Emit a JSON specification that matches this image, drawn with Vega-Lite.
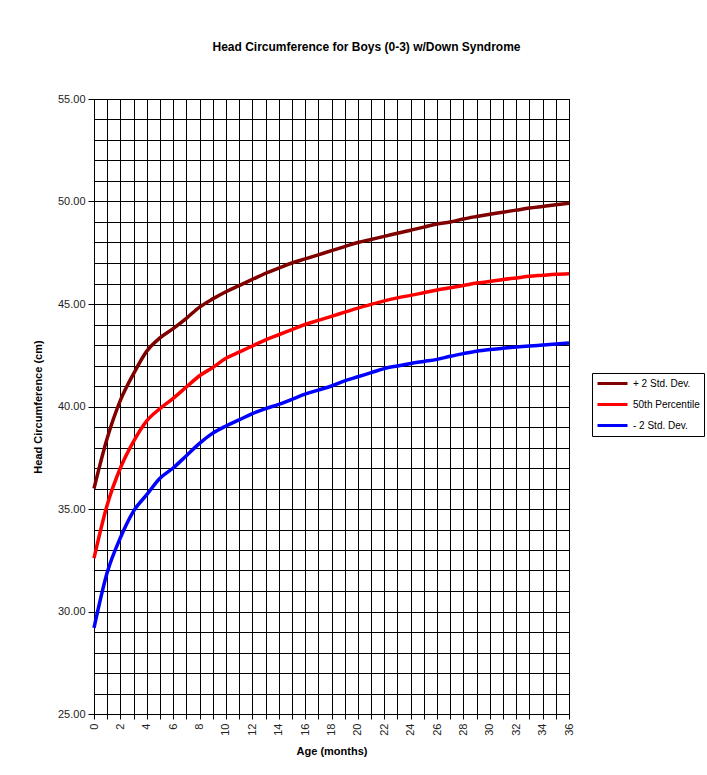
{
  "$schema": "https://vega.github.io/schema/vega-lite/v6.json",
  "autosize": {"type": "none"},
  "width": 475,
  "height": 615,
  "padding": {"left": 94, "top": 99, "right": 138, "bottom": 61},
  "background": "white",
  "title": {
    "text": "Head Circumference for Boys (0-3) w/Down Syndrome",
    "font": "Liberation Sans",
    "fontSize": 12,
    "fontWeight": "bold",
    "color": "black",
    "anchor": "middle",
    "dx": 35,
    "offset": 39
  },
  "data": {
    "values": [
      {"month": 0, "hi": 36.0, "p50": 32.6, "lo": 29.2},
      {"month": 1, "hi": 38.45, "p50": 35.2, "lo": 31.9},
      {"month": 2, "hi": 40.3, "p50": 37.0, "lo": 33.6},
      {"month": 3, "hi": 41.6, "p50": 38.3, "lo": 34.9},
      {"month": 4, "hi": 42.7, "p50": 39.3, "lo": 35.7},
      {"month": 5, "hi": 43.35, "p50": 39.9, "lo": 36.5},
      {"month": 6, "hi": 43.8, "p50": 40.4, "lo": 37.0},
      {"month": 7, "hi": 44.3, "p50": 40.95, "lo": 37.6},
      {"month": 8, "hi": 44.85, "p50": 41.5, "lo": 38.2},
      {"month": 9, "hi": 45.25, "p50": 41.9, "lo": 38.7},
      {"month": 10, "hi": 45.6, "p50": 42.35, "lo": 39.05},
      {"month": 11, "hi": 45.9, "p50": 42.65, "lo": 39.35},
      {"month": 12, "hi": 46.2, "p50": 42.95, "lo": 39.65},
      {"month": 13, "hi": 46.5, "p50": 43.25, "lo": 39.9},
      {"month": 14, "hi": 46.75, "p50": 43.5, "lo": 40.1},
      {"month": 15, "hi": 47.0, "p50": 43.75, "lo": 40.35},
      {"month": 16, "hi": 47.2, "p50": 44.0, "lo": 40.6},
      {"month": 17, "hi": 47.4, "p50": 44.2, "lo": 40.8},
      {"month": 18, "hi": 47.6, "p50": 44.4, "lo": 41.0},
      {"month": 19, "hi": 47.8, "p50": 44.6, "lo": 41.25},
      {"month": 20, "hi": 48.0, "p50": 44.8, "lo": 41.45},
      {"month": 21, "hi": 48.15, "p50": 44.98, "lo": 41.65},
      {"month": 22, "hi": 48.3, "p50": 45.15, "lo": 41.85},
      {"month": 23, "hi": 48.45, "p50": 45.3, "lo": 41.98},
      {"month": 24, "hi": 48.6, "p50": 45.42, "lo": 42.1},
      {"month": 25, "hi": 48.75, "p50": 45.55, "lo": 42.2},
      {"month": 26, "hi": 48.9, "p50": 45.68, "lo": 42.3},
      {"month": 27, "hi": 49.0, "p50": 45.79, "lo": 42.45},
      {"month": 28, "hi": 49.15, "p50": 45.9, "lo": 42.58},
      {"month": 29, "hi": 49.27, "p50": 46.02, "lo": 42.7},
      {"month": 30, "hi": 49.38, "p50": 46.1, "lo": 42.78},
      {"month": 31, "hi": 49.48, "p50": 46.2, "lo": 42.84},
      {"month": 32, "hi": 49.58, "p50": 46.27, "lo": 42.9},
      {"month": 33, "hi": 49.68, "p50": 46.35, "lo": 42.95},
      {"month": 34, "hi": 49.76, "p50": 46.4, "lo": 43.0},
      {"month": 35, "hi": 49.84, "p50": 46.45, "lo": 43.05},
      {"month": 36, "hi": 49.92, "p50": 46.48, "lo": 43.1}
    ]
  },
  "transform": [
    {"fold": ["hi", "p50", "lo"], "as": ["series", "cm"]}
  ],
  "mark": {"type": "line", "strokeWidth": 3.5, "interpolate": "monotone"},
  "encoding": {
    "x": {
      "field": "month",
      "type": "quantitative",
      "scale": {"domain": [0, 36], "nice": false, "zero": false},
      "axis": {
        "title": "Age (months)",
        "values": [0,1,2,3,4,5,6,7,8,9,10,11,12,13,14,15,16,17,18,19,20,21,22,23,24,25,26,27,28,29,30,31,32,33,34,35,36],
        "labelExpr": "datum.value % 2 === 0 ? datum.label : ''",
        "labelAngle": 270,
        "labelAlign": "right",
        "labelBaseline": "middle",
        "labelPadding": 4,
        "tickSize": 5,
        "titlePadding": 10
      }
    },
    "y": {
      "field": "cm",
      "type": "quantitative",
      "scale": {"domain": [25, 55], "nice": false, "zero": false},
      "axis": {
        "title": "Head Circumference (cm)",
        "values": [25,26,27,28,29,30,31,32,33,34,35,36,37,38,39,40,41,42,43,44,45,46,47,48,49,50,51,52,53,54,55],
        "labelExpr": "datum.value % 5 === 0 ? format(datum.value, '.2f') : ''",
        "tickOpacity": {"condition": {"test": "datum.value % 5 === 0", "value": 1}, "value": 0},
        "tickSize": 6,
        "labelPadding": 3,
        "titlePadding": 14
      }
    },
    "color": {
      "field": "series",
      "type": "nominal",
      "scale": {"domain": ["hi", "p50", "lo"], "range": ["#800000", "#FF0000", "#0000FF"]},
      "legend": {
        "title": null,
        "orient": "none",
        "legendX": 498,
        "legendY": 274,
        "labelExpr": "datum.label === 'hi' ? '+ 2 Std. Dev.' : datum.label === 'p50' ? '50th Percentile' : '- 2 Std. Dev.'",
        "symbolType": "M-3,0H3",
        "symbolSize": 100,
        "symbolStrokeWidth": 3,
        "symbolOffset": 10,
        "labelFont": "Liberation Sans",
        "labelFontSize": 10,
        "labelColor": "black",
        "labelOffset": 14,
        "rowPadding": 8,
        "padding": 4,
        "strokeColor": "black",
        "fillColor": "white"
      }
    }
  },
  "config": {
    "font": "Liberation Sans",
    "view": {"stroke": "black", "strokeWidth": 1},
    "axis": {
      "grid": true,
      "gridColor": "black",
      "gridOpacity": 1,
      "gridWidth": 1,
      "domainColor": "black",
      "tickColor": "black",
      "labelFont": "Liberation Sans",
      "labelFontSize": 11,
      "labelColor": "#222222",
      "titleFont": "Liberation Sans",
      "titleFontSize": 11,
      "titleFontWeight": "bold",
      "titleColor": "black"
    }
  }
}
